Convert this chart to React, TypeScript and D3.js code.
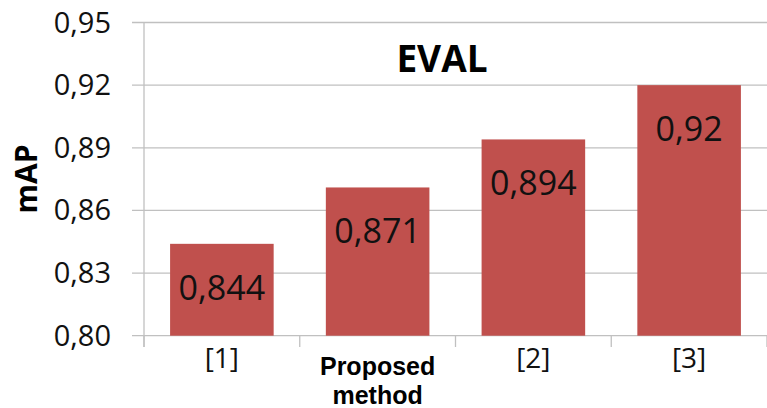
import React from "react";
import * as d3 from "d3";

const categories = ["[1]", "Proposed method", "[2]", "[3]"];
const values = [0.844, 0.871, 0.894, 0.92];
const valueLabels = ["0,844", "0,871", "0,894", "0,92"];
const yTicks = [0.8, 0.83, 0.86, 0.89, 0.92, 0.95];
const yTickLabels = ["0,80", "0,83", "0,86", "0,89", "0,92", "0,95"];
const title = "EVAL";
const yTitle = "mAP";

const W = 767;
const H = 408;
const plotLeft = 144;
const plotRight = 767;
const plotTop = 22.5;
const plotBottom = 335.7;

const numFont = "'Open Sans', sans-serif";
const gridColor = "#c0c0c0";
const barColor = "#c0504d";

export default function App() {
  const y = d3.scaleLinear().domain([0.8, 0.95]).range([plotBottom, plotTop]);
  const x = d3
    .scaleBand<string>()
    .domain(categories)
    .range([plotLeft, plotRight])
    .paddingInner(0.335)
    .paddingOuter(0.1675);
  const step = x.step();
  const boundaries = d3.range(categories.length + 1).map((i) => plotLeft + i * step);

  return (
    <svg
      width={W}
      height={H}
      style={{ position: "absolute", left: 0, top: 0, background: "#fff" }}
    >
      {/* gridlines with left tick stubs */}
      {yTicks.map((t) => (
        <line
          key={"g" + t}
          x1={132}
          x2={plotRight}
          y1={y(t)}
          y2={y(t)}
          stroke={gridColor}
          strokeWidth={1.3}
        />
      ))}
      {/* value axis line */}
      <line x1={plotLeft} x2={plotLeft} y1={plotTop} y2={347} stroke={gridColor} strokeWidth={1.3} />
      {/* category boundary ticks */}
      {boundaries.map((bx, i) => (
        <line
          key={"c" + i}
          x1={bx}
          x2={bx}
          y1={plotBottom}
          y2={347}
          stroke={gridColor}
          strokeWidth={1.3}
        />
      ))}
      {/* y tick labels */}
      {yTicks.map((t, i) => (
        <text
          key={"t" + t}
          x={111}
          y={y(t) + 10}
          textAnchor="end"
          fontFamily={numFont}
          fontSize={29}
          fill="#111"
        >
          {yTickLabels[i]}
        </text>
      ))}
      {/* bars */}
      {categories.map((c, i) => (
        <rect
          key={"b" + c}
          x={x(c)}
          y={y(values[i])}
          width={x.bandwidth()}
          height={plotBottom - y(values[i])}
          fill={barColor}
        />
      ))}
      {/* value labels */}
      {categories.map((c, i) => (
        <text
          key={"v" + c}
          x={(x(c) as number) + x.bandwidth() / 2}
          y={y(values[i]) + 56}
          textAnchor="middle"
          fontFamily={numFont}
          fontSize={34}
          fill="#111"
        >
          {valueLabels[i]}
        </text>
      ))}
      {/* category labels */}
      {categories.map((c) => {
        const cx = (x(c) as number) + x.bandwidth() / 2;
        if (c === "Proposed method") {
          return (
            <text
              key={"l" + c}
              x={cx}
              textAnchor="middle"
              fontFamily="'Liberation Sans', Arial, sans-serif"
              fontWeight="bold"
              fontSize={25}
              fill="#000"
            >
              <tspan x={cx} y={375}>Proposed</tspan>
              <tspan x={cx} y={404}>method</tspan>
            </text>
          );
        }
        return (
          <text
            key={"l" + c}
            x={cx}
            y={368}
            textAnchor="middle"
            fontFamily={numFont}
            fontSize={28}
            fill="#111"
          >
            {c}
          </text>
        );
      })}
      {/* chart title */}
      <text
        x={442}
        y={72}
        textAnchor="middle"
        fontFamily={numFont}
        fontWeight="bold"
        fontSize={37}
        fill="#000"
      >
        {title}
      </text>
      {/* value axis title */}
      <text
        transform={`translate(37,179) rotate(-90)`}
        textAnchor="middle"
        fontFamily={numFont}
        fontWeight="bold"
        fontSize={30}
        fill="#000"
      >
        {yTitle}
      </text>
    </svg>
  );
}
